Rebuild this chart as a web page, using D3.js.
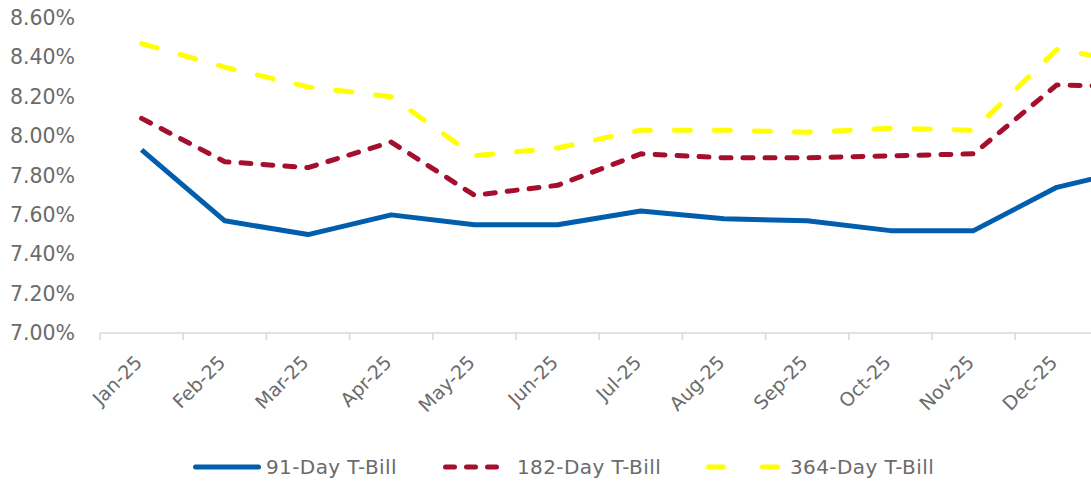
<!DOCTYPE html>
<html><head><meta charset="utf-8">
<script src="https://cdn.jsdelivr.net/npm/d3@7"></script>
<style>
html,body{margin:0;padding:0;background:#fff;overflow:hidden;}
svg{display:block;}
</style></head>
<body>
<svg id="chart" width="1091" height="483"></svg>
<script>
const categories = ["Jan-25","Feb-25","Mar-25","Apr-25","May-25","Jun-25","Jul-25","Aug-25","Sep-25","Oct-25","Nov-25","Dec-25","Jan-26"];
const bill91  = [7.93,7.57,7.50,7.60,7.55,7.55,7.62,7.58,7.57,7.52,7.52,7.74,7.84];
const bill182 = [8.09,7.87,7.84,7.97,7.70,7.75,7.91,7.89,7.89,7.90,7.91,8.26,8.25];
const bill364 = [8.47,8.35,8.25,8.20,7.90,7.94,8.03,8.03,8.02,8.04,8.03,8.44,8.37];
const yTicks = [7.0,7.2,7.4,7.6,7.8,8.0,8.2,8.4,8.6];
const shownLabels = categories.slice(0, 12);
const seriesNames = ["91-Day T-Bill","182-Day T-Bill","364-Day T-Bill"];

const svg = d3.select("#chart");
const left = 100, band = 83.2;
const x = d3.scaleBand().domain(categories).range([left, left + band*categories.length]).padding(0);
const y = d3.scaleLinear().domain([7.0, 8.6]).range([333, 18]);
const cx = c => x(c) + x.bandwidth()/2;

const labelColor = "#6b6b6b";
const font = "'DejaVu Sans', sans-serif";

// y axis labels
const yAxis = d3.axisLeft(y).tickValues(yTicks).tickSize(0).tickPadding(0).tickFormat(d => d.toFixed(2) + "%");
const gy = svg.append("g").attr("transform","translate(75,0)").call(yAxis);
gy.select(".domain").remove();
gy.selectAll("text").attr("fill", labelColor).style("font-family", font).style("font-size","20.5px");

// x axis
const gx = svg.append("g").attr("transform","translate(0,333)");
gx.append("line").attr("x1", x.range()[0]).attr("x2", x.range()[1]).attr("y1",0).attr("y2",0)
  .attr("stroke","#d9d9d9").attr("stroke-width",1.5);
gx.selectAll("line.tick").data(categories).enter().append("line").attr("class","tick")
  .attr("x1", d => x(d)).attr("x2", d => x(d)).attr("y1",0).attr("y2",7)
  .attr("stroke","#d9d9d9").attr("stroke-width",1.5);
gx.selectAll("text.lbl").data(shownLabels).enter().append("text").attr("class","lbl")
  .attr("transform", d => `translate(${cx(d)-3},${26}) rotate(-45)`)
  .attr("text-anchor","end").attr("dy","0.35em")
  .attr("fill", labelColor).style("font-family", font).style("font-size","19px")
  .text(d => d);

// lines
const line = d3.line().x((d,i) => cx(categories[i])).y(d => y(d));
const styles = [
  {data: bill91,  color:"#005EAC", dash:null},
  {data: bill182, color:"#A50F2D", dash:"10,12"},
  {data: bill364, color:"#FFFF00", dash:"16,24"}
];
styles.forEach(s => {
  svg.append("path").datum(s.data).attr("d", line).attr("fill","none")
    .attr("stroke", s.color).attr("stroke-width",5)
    .attr("stroke-linejoin","round").attr("stroke-linecap", s.dash ? "round" : "butt")
    .attr("stroke-dasharray", s.dash);
});

// legend
const leg = [
  {x1:195.5, x2:258.5, tx:266, color:"#005EAC", dash:null},
  {x1:445.5, x2:496.5, tx:517, color:"#A50F2D", dash:"9,12"},
  {x1:708.5, x2:777.5, tx:790, color:"#FFFF00", dash:"15,39"}
];
leg.forEach((l,i) => {
  svg.append("line").attr("x1",l.x1).attr("x2",l.x2).attr("y1",467).attr("y2",467)
    .attr("stroke", l.color).attr("stroke-width",5).attr("stroke-linecap","round")
    .attr("stroke-dasharray", l.dash);
  svg.append("text").attr("x", l.tx).attr("y", 467).attr("dy","0.35em")
    .attr("fill", labelColor).style("font-family", font).style("font-size","20px")
    .style("letter-spacing","0.4px")
    .text(seriesNames[i]);
});
</script>
</body></html>
